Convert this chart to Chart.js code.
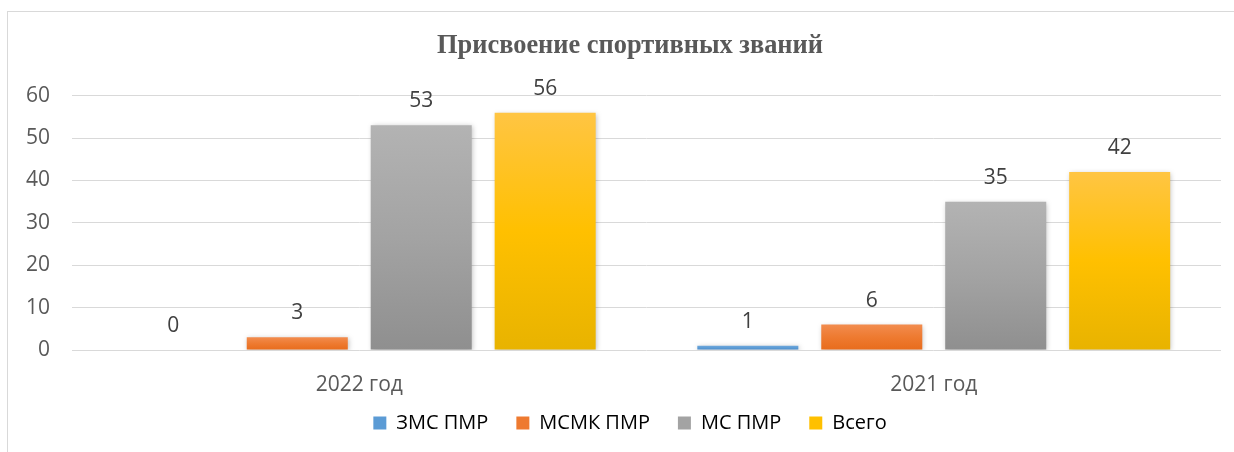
<!DOCTYPE html>
<html>
<head>
<meta charset="utf-8">
<script src="https://cdn.jsdelivr.net/npm/chart.js@4.4.1/dist/chart.umd.min.js"></script>
<style>
  html, body { margin: 0; padding: 0; overflow: hidden; background: #fff; }
  #frame { position: absolute; left: 7px; top: 11px; width: 1400px; height: 600px; border: 1px solid #d9d9d9; }
  #grafik { position: absolute; left: 0; top: 0; }
</style>
</head>
<body>
<div id="frame"></div>
<canvas id="grafik" width="1260" height="452"></canvas>
<script>
const kategori = ['2022 год', '2021 год'];
const namaSeri = ['ЗМС ПМР', 'МСМК ПМР', 'МС ПМР', 'Всего'];
const nilaiZMS = [0, 1];
const nilaiMSMK = [3, 6];
const nilaiMS = [53, 35];
const nilaiTotal = [56, 42];
const tickY = [0, 10, 20, 30, 40, 50, 60];

// warna gradien: atas, tengah, bawah
const warna = [
    ['#6fa8dc', '#5b9bd5', '#4a8ac8'],
    ['#f28c4e', '#ee7a30', '#e86c1c'],
    ['#b3b3b3', '#a3a3a3', '#8f8f8f'],
    ['#ffc543', '#ffc000', '#e8b300']
];

function gradienBatang(i) {
    return function(context) {
        const chart = context.chart;
        if (!chart.chartArea || !chart.scales.y) return warna[i][1];
        const y = chart.scales.y;
        const v = context.raw || 0;
        const top = y.getPixelForValue(v);
        const base = y.getPixelForValue(0);
        if (base - top < 1) return warna[i][1];
        const g = chart.ctx.createLinearGradient(0, top, 0, base);
        g.addColorStop(0, warna[i][0]);
        g.addColorStop(0.5, warna[i][1]);
        g.addColorStop(1, warna[i][2]);
        return g;
    };
}

const semuaNilai = [nilaiZMS, nilaiMSMK, nilaiMS, nilaiTotal];

const labelData = {
    id: 'labelData',
    afterDatasetsDraw(chart) {
        const ctx = chart.ctx;
        ctx.save();
        ctx.font = '21px "Open Sans"';
        ctx.fillStyle = '#404040';
        ctx.textAlign = 'center';
        ctx.textBaseline = 'alphabetic';
        chart.data.datasets.forEach((ds, i) => {
            chart.getDatasetMeta(i).data.forEach((bar, j) => {
                ctx.fillText(ds.data[j], bar.x, bar.y - 18);
            });
        });
        ctx.restore();
    }
};

const bayangan = {
    id: 'bayangan',
    beforeDatasetsDraw(chart) {
        const ctx = chart.ctx;
        ctx.save();
        ctx.shadowColor = 'rgba(0,0,0,0.25)';
        ctx.shadowBlur = 5;
        ctx.shadowOffsetX = 1;
        ctx.shadowOffsetY = 1;
    },
    afterDatasetsDraw(chart) {
        chart.ctx.restore();
    }
};

// sumbu dibuat sempit, jadi area klip label dilebarkan lagi
const lepasKlip = {
    id: 'lepasKlip',
    afterLayout(chart) {
        chart.scales.y.left = 0;
        chart.scales.x.bottom = chart.height;
    }
};

const ctx = document.getElementById('grafik').getContext('2d');

const grafik = new Chart(ctx, {
    type: 'bar',
    data: {
        labels: kategori,
        datasets: semuaNilai.map((d, i) => ({
            label: namaSeri[i],
            data: d,
            backgroundColor: gradienBatang(i),
            borderWidth: 0,
            categoryPercentage: 0.863,
            barPercentage: 0.815
        }))
    },
    options: {
        responsive: false,
        animation: false,
        layout: { padding: { left: 39, right: 39, top: 0, bottom: 9 } },
        scales: {
            x: {
                grid: { display: false },
                border: { display: false },
                ticks: { color: '#595959', font: { family: 'Open Sans', size: 21 }, padding: 14 },
                afterFit(scale) { scale.height = 35; }
            },
            y: {
                min: 0,
                max: 60,
                afterBuildTicks(axis) { axis.ticks = tickY.map(v => ({ value: v })); },
                grid: { color: '#d9d9d9', drawTicks: false },
                border: { display: false },
                ticks: { color: '#595959', font: { family: 'Open Sans', size: 21 }, padding: 22 },
                afterFit(scale) { scale.width = 33; }
            }
        },
        plugins: {
            title: {
                display: true,
                text: 'Присвоение спортивных званий',
                color: '#595959',
                font: { family: 'Liberation Serif', size: 26.4, weight: 'bold' },
                padding: { top: 30, bottom: 34 }
            },
            legend: {
                position: 'bottom',
                labels: {
                    color: '#595959',
                    font: { family: 'Open Sans', size: 20 },
                    boxWidth: 13,
                    boxHeight: 13,
                    padding: 28,
                    generateLabels(chart) {
                        return namaSeri.map((n, i) => ({
                            text: n,
                            fillStyle: warna[i][1],
                            strokeStyle: warna[i][1],
                            lineWidth: 0,
                            datasetIndex: i
                        }));
                    }
                }
            },
            tooltip: { enabled: false }
        }
    },
    plugins: [bayangan, labelData, lepasKlip]
});
</script>
</body>
</html>
